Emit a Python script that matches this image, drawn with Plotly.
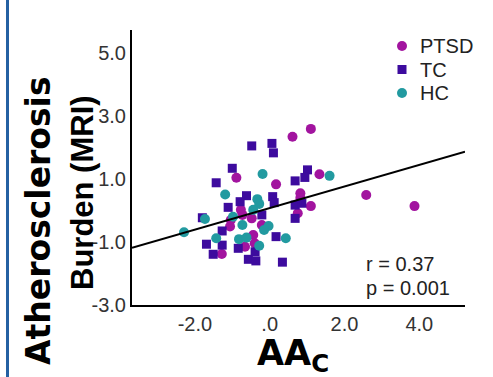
import plotly.graph_objects as go

# ---------------- data ----------------
ptsd_x = [1.10, 0.61, -0.89, 0.17, 1.33, 0.82, 0.82, 1.10, 0.75, -0.77, -0.73, -0.48,
          -1.04, -1.06, -0.21, -0.44, -0.40, -0.66, -1.28, 2.58, 3.87]
ptsd_y = [2.59, 2.34, 1.04, 0.83, 1.15, 0.55, 0.40, 0.14, -0.09, 0.02, -0.14, -0.25,
          -0.30, -0.51, -0.46, -0.78, -1.04, -1.15, -1.38, 0.49, 0.14]

tc_x = [-0.48, 0.06, 0.10, -1.00, -1.43, 1.01, 0.94, 0.68, 0.08, 0.12, -0.62, -0.79,
        -1.11, 0.68, 0.86, -0.21, -1.80, 0.68, -1.27, -1.69, -1.27, 0.17, -0.84,
        -1.51, -0.39, -0.57, -0.37, 0.34]
tc_y = [2.05, 2.13, 1.83, 1.34, 0.88, 1.29, 1.05, 0.94, 0.44, 0.25, 0.47, 0.28,
        0.10, 0.17, 0.23, -0.14, -0.23, -0.25, -0.65, -1.07, -1.10, -0.83, -1.20,
        -1.39, -1.31, -1.55, -1.60, -1.64]

hc_x = [-2.29, -1.73, -1.19, -0.19, 1.60, -0.33, -0.28, -0.44, -0.98, -0.73, -0.03,
        -0.15, -1.43, -0.82, -0.62, 0.43, -0.28]
hc_y = [-0.69, -0.27, 0.51, 1.16, 1.10, 0.36, 0.21, 0.02, -0.20, -0.46, -0.49,
        -0.62, -0.88, -0.91, -0.86, -0.88, -1.12]

group_names = ["PTSD", "TC", "HC"]
group_colors = ["#a2149f", "#3d0b9e", "#229aa0"]

line_slope = 0.343
line_intercept = 0.077

x_ticks = [-2, 0, 2, 4]
x_tick_labels = ["-2.0", ".0", "2.0", "4.0"]
y_ticks = [-3, -1, 1, 3, 5]
y_tick_labels = ["-3.0", "-1.0", "1.0", "3.0", "5.0"]

x_range = [-3.68, 5.22]
y_range = [-3.0, 5.73]

# ---------------- layout geometry ----------------
W, H = 493, 377
ML, MR, MT, MB = 132, 28, 30, 72
PW, PH = W - ML - MR, H - MT - MB


def px(x):
    return (x - ML) / PW


def py(y):
    return (H - MB - y) / PH


FONT = "Liberation Sans, Arial, Helvetica, sans-serif"
WIDE = "DejaVu Sans, Liberation Sans, Arial, sans-serif"

fig = go.Figure()

fig.add_trace(go.Scatter(x=ptsd_x, y=ptsd_y, mode="markers", name=group_names[0],
                         marker=dict(symbol="circle", size=10, color=group_colors[0])))
fig.add_trace(go.Scatter(x=tc_x, y=tc_y, mode="markers", name=group_names[1],
                         marker=dict(symbol="square", size=9, color=group_colors[1])))
fig.add_trace(go.Scatter(x=hc_x, y=hc_y, mode="markers", name=group_names[2],
                         marker=dict(symbol="circle", size=10, color=group_colors[2])))

lx = [x_range[0], x_range[1]]
ly = [line_intercept + line_slope * v for v in lx]
fig.add_trace(go.Scatter(x=lx, y=ly, mode="lines", showlegend=False,
                         line=dict(color="black", width=2), cliponaxis=False))

fig.update_layout(
    width=W, height=H,
    margin=dict(l=ML, r=MR, t=MT, b=MB),
    paper_bgcolor="white", plot_bgcolor="white",
    font=dict(family=FONT, color="#222"),
    showlegend=False,
    xaxis=dict(range=x_range, tickvals=x_ticks, ticktext=x_tick_labels,
               showline=True, linecolor="black", linewidth=2, showgrid=False,
               zeroline=False, ticks="", tickfont=dict(size=20, color="#333")),
    yaxis=dict(range=y_range, tickvals=y_ticks, ticktext=y_tick_labels,
               showline=True, linecolor="black", linewidth=2, showgrid=False,
               zeroline=False, ticks="", tickfont=dict(size=20, color="#333")),
)

# left blue border
fig.add_shape(type="line", xref="paper", yref="paper",
              x0=px(7.5), x1=px(7.5), y0=py(0), y1=py(H),
              line=dict(color="#2460a2", width=3))

# manual legend (symbols + labels)
leg_rows = [46, 69.5, 93]
leg_cx = 402
for i, (name, col) in enumerate(zip(group_names, group_colors)):
    cy = leg_rows[i]
    shape_type = "rect" if name == "TC" else "circle"
    rr = 4.5 if name == "TC" else 5
    fig.add_shape(type=shape_type, xref="paper", yref="paper",
                  x0=px(leg_cx - rr), x1=px(leg_cx + rr),
                  y0=py(cy + rr), y1=py(cy - rr),
                  fillcolor=col, line=dict(width=0))
    fig.add_annotation(text=name, xref="paper", yref="paper",
                       x=px(418), y=py(cy), xanchor="left", yanchor="middle",
                       showarrow=False, font=dict(size=20, color="#222", family=FONT))

fig.add_annotation(text="<b>Atherosclerosis</b>", xref="paper", yref="paper",
                   x=px(38), y=py(220), xanchor="center", yanchor="middle",
                   textangle=-90, showarrow=False,
                   font=dict(size=33, color="black", family=WIDE))
fig.add_annotation(text="<b>Burden (MRI)</b>", xref="paper", yref="paper",
                   x=px(82), y=py(193), xanchor="center", yanchor="middle",
                   textangle=-90, showarrow=False,
                   font=dict(size=31, color="black", family=FONT))
fig.add_annotation(text="<b>AA<sub>C</sub></b>", xref="paper", yref="paper",
                   x=px(293), y=py(355), xanchor="center", yanchor="middle",
                   showarrow=False, font=dict(size=35, color="black", family=WIDE))
fig.add_annotation(text="r = 0.37", xref="paper", yref="paper",
                   x=px(364), y=py(264), xanchor="left", yanchor="middle",
                   showarrow=False, font=dict(size=20, color="#222", family=FONT))
fig.add_annotation(text="p = 0.001", xref="paper", yref="paper",
                   x=px(364), y=py(288), xanchor="left", yanchor="middle",
                   showarrow=False, font=dict(size=20, color="#222", family=FONT))

fig.write_html("out.html")
